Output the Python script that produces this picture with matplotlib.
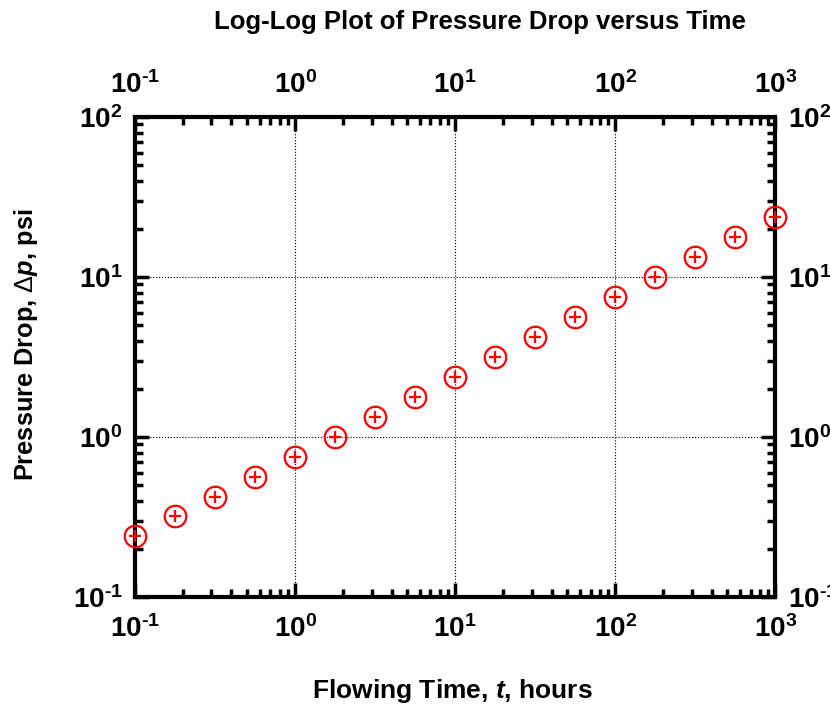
import numpy as np
import matplotlib.pyplot as plt
from matplotlib.ticker import LogLocator, FuncFormatter, NullFormatter

plt.rcParams['font.family'] = ['Liberation Sans', 'DejaVu Sans']
plt.rcParams['font.weight'] = 'bold'
plt.rcParams['mathtext.fontset'] = 'custom'
plt.rcParams['mathtext.rm'] = 'Liberation Sans:bold'
plt.rcParams['mathtext.bf'] = 'Liberation Sans:bold'
plt.rcParams['mathtext.it'] = 'Liberation Sans:bold:italic'
plt.rcParams['mathtext.sf'] = 'Liberation Sans:normal'

# Data lest av figuren
tid = [0.1, 0.178, 0.316, 0.562, 1.0, 1.78, 3.16, 5.62, 10.0,
       17.8, 31.6, 56.2, 100.0, 178.0, 316.0, 562.0, 1000.0]
trykkfall = [0.24, 0.32, 0.42, 0.56, 0.75, 1.0, 1.33, 1.78, 2.37,
             3.16, 4.2, 5.6, 7.5, 10.0, 13.3, 17.8, 23.7]


def potens(v, pos):
    e = int(round(np.log10(v)))
    return r'10$^{\text{%d}}$' % e


fig = plt.figure(figsize=(8.3, 7.14), dpi=100)
ax = fig.add_axes([0.1627, 0.1639, 0.7715, 0.672])

ax.plot(tid, trykkfall, 'o', ms=15.5, mfc='none', mec='red', mew=1.6,
        clip_on=False, zorder=5)
ax.plot(tid, trykkfall, '+', ms=8, color='red', mew=1.6,
        clip_on=False, zorder=5)

ax.set_xscale('log')
ax.set_yscale('log')
ax.set_xlim(0.1, 1000)
ax.set_ylim(0.1, 100)

for akse in (ax.xaxis, ax.yaxis):
    akse.set_major_locator(LogLocator(base=10))
    akse.set_minor_locator(LogLocator(base=10, subs=np.arange(2, 10)))
    akse.set_major_formatter(FuncFormatter(potens))
    akse.set_minor_formatter(NullFormatter())

ax.grid(True, which='major', color='black', linestyle=':', linewidth=0.8)
ax.tick_params(which='both', direction='in', top=True, right=True,
               labeltop=True, labelright=True, width=2.5)
ax.tick_params(which='major', length=10, labelsize=20)
ax.tick_params(axis='x', which='major', pad=13)
ax.tick_params(axis='y', which='major', pad=9)
ax.tick_params(which='minor', length=6)
for s in ax.spines.values():
    s.set_linewidth(3)

fig.text(480 / 830, 1 - 22 / 714, 'Log-Log Plot of Pressure Drop versus Time',
         fontsize=18.5, fontweight='bold', ha='center', va='center')
fig.text(452 / 830, 1 - 691 / 714, r'Flowing Time, $\mathit{t}$, hours',
         fontsize=19, fontweight='bold', ha='center', va='center')
fig.text(26 / 830, 1 - 345 / 714,
         r'Pressure Drop, $\mathsf{\Delta}\mathit{p}$, psi',
         fontsize=18.3, fontweight='bold', ha='center', va='center',
         rotation=90)

fig.savefig('out.png', dpi=100)
